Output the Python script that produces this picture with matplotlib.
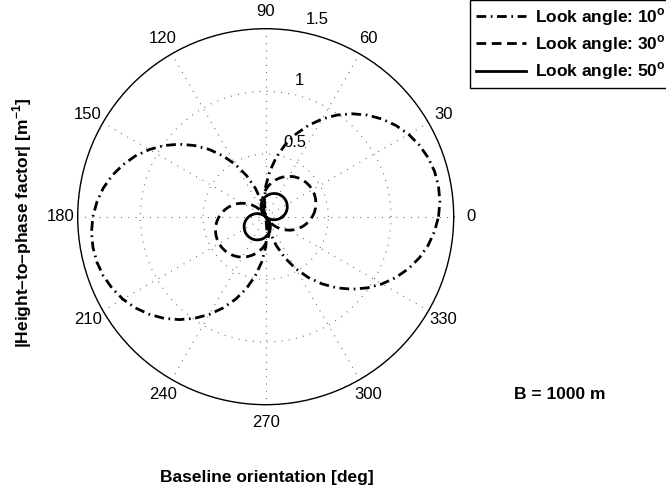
import numpy as np
import matplotlib
matplotlib.use("Agg")
import matplotlib.pyplot as plt

# ---- data ----
orientation_deg = [0, 5, 10, 15, 20, 25, 30, 35, 40, 45, 50, 55, 60, 65, 70,
                   75, 80, 85, 90, 95, 100, 105, 110, 115, 120, 125, 130,
                   135, 140, 145, 150, 155, 160, 165, 170, 175, 180, 185,
                   190, 195, 200, 205, 210, 215, 220, 225, 230, 235, 240,
                   245, 250, 255, 260, 265, 270, 275, 280, 285, 290, 295,
                   300, 305, 310, 315, 320, 325, 330, 335, 340, 345, 350,
                   355, 360]

look10 = [1.379, 1.395, 1.400, 1.395, 1.379, 1.352, 1.316, 1.269, 1.212,
          1.147, 1.072, 0.990, 0.900, 0.803, 0.700, 0.592, 0.479, 0.362,
          0.243, 0.122, 0.000, 0.122, 0.243, 0.362, 0.479, 0.592, 0.700,
          0.803, 0.900, 0.990, 1.072, 1.147, 1.212, 1.269, 1.316, 1.352,
          1.379, 1.395, 1.400, 1.395, 1.379, 1.352, 1.316, 1.269, 1.212,
          1.147, 1.072, 0.990, 0.900, 0.803, 0.700, 0.592, 0.479, 0.362,
          0.243, 0.122, 0.000, 0.122, 0.243, 0.362, 0.479, 0.592, 0.700,
          0.803, 0.900, 0.990, 1.072, 1.147, 1.212, 1.269, 1.316, 1.352,
          1.379]

look30 = [0.372, 0.390, 0.404, 0.415, 0.423, 0.428, 0.430, 0.428, 0.423,
          0.415, 0.404, 0.390, 0.372, 0.352, 0.329, 0.304, 0.276, 0.247,
          0.215, 0.182, 0.147, 0.111, 0.075, 0.037, 0.000, 0.037, 0.075,
          0.111, 0.147, 0.182, 0.215, 0.247, 0.276, 0.304, 0.329, 0.352,
          0.372, 0.390, 0.404, 0.415, 0.423, 0.428, 0.430, 0.428, 0.423,
          0.415, 0.404, 0.390, 0.372, 0.352, 0.329, 0.304, 0.276, 0.247,
          0.215, 0.182, 0.147, 0.111, 0.075, 0.037, 0.000, 0.037, 0.075,
          0.111, 0.147, 0.182, 0.215, 0.247, 0.276, 0.304, 0.329, 0.352,
          0.372]

look50 = [0.135, 0.148, 0.161, 0.172, 0.182, 0.190, 0.197, 0.203, 0.207,
          0.209, 0.210, 0.209, 0.207, 0.203, 0.197, 0.190, 0.182, 0.172,
          0.161, 0.148, 0.135, 0.120, 0.105, 0.089, 0.072, 0.054, 0.036,
          0.018, 0.000, 0.018, 0.036, 0.054, 0.072, 0.089, 0.105, 0.120,
          0.135, 0.148, 0.161, 0.172, 0.182, 0.190, 0.197, 0.203, 0.207,
          0.209, 0.210, 0.209, 0.207, 0.203, 0.197, 0.190, 0.182, 0.172,
          0.161, 0.148, 0.135, 0.120, 0.105, 0.089, 0.072, 0.054, 0.036,
          0.018, 0.000, 0.018, 0.036, 0.054, 0.072, 0.089, 0.105, 0.120,
          0.135]

series_labels = [r'Look angle: 10$^{\mathbf{o}}$',
                 r'Look angle: 30$^{\mathbf{o}}$',
                 r'Look angle: 50$^{\mathbf{o}}$']

theta_ticks = [0, 30, 60, 90, 120, 150, 180, 210, 240, 270, 300, 330]
theta_ticklabels = ['0', '30', '60', '90', '120', '150', '180', '210',
                    '240', '270', '300', '330']
r_ticks = [0.5, 1.0, 1.5]
r_ticklabels = ['0.5', '1', '1.5']

# ---- style ----
plt.rcParams['font.family'] = ['Liberation Sans', 'DejaVu Sans']
plt.rcParams['mathtext.fontset'] = 'custom'
plt.rcParams['mathtext.rm'] = 'Liberation Sans'
plt.rcParams['mathtext.bf'] = 'Liberation Sans:bold'
plt.rcParams['lines.scale_dashes'] = False

W, H = 666, 488
fig = plt.figure(figsize=(W / 100, H / 100), dpi=100)

cx, cy, R = 265.7, 216.7, 188.0
ax = fig.add_axes([(cx - R) / W, (H - cy - R) / H, 2 * R / W, 2 * R / H],
                  projection='polar')

th = np.deg2rad(orientation_deg)
lw = 2.0
l1, = ax.plot(th, look10, color='black', lw=lw,
              linestyle=(0, (7, 3.3, 1.2, 3.3)))
l2, = ax.plot(th, look30, color='black', lw=lw, linestyle=(0, (7, 4)))
l3, = ax.plot(th, look50, color='black', lw=lw, linestyle='-')

ax.set_ylim(0, 1.5)
ax.set_thetagrids(theta_ticks, labels=theta_ticklabels, fontsize=12)
ax.set_rticks(r_ticks)
ax.set_yticklabels([])
ax.tick_params(axis='x', length=0, pad=5.5)
ax.tick_params(axis='y', length=0)
ax.grid(True, color='0.3', linewidth=0.8, linestyle=(0, (0.6, 4.6)))
ax.spines['polar'].set_linewidth(1.0)
ax.spines['polar'].set_color('black')

for r, lab in zip(r_ticks, r_ticklabels):
    ax.annotate(lab, xy=(np.deg2rad(80), r), xytext=(5, 3.5),
                textcoords='offset points', ha='left', va='bottom',
                fontsize=12)

leg = fig.legend([l1, l2, l3], series_labels, loc='upper left',
                 bbox_to_anchor=(470 / W, 1.0), borderaxespad=0,
                 fancybox=False, shadow=False, framealpha=1,
                 edgecolor='black', handlelength=2.88, handletextpad=0.52,
                 borderpad=0.35, labelspacing=0.32,
                 prop={'weight': 'bold', 'size': 12.5})
leg.get_frame().set_linewidth(1.0)

fig.text(266.7 / W, (H - 481.7) / H, 'Baseline orientation [deg]',
         ha='center', va='baseline', fontsize=12.5, fontweight='bold')
fig.text(22.5 / W, (H - 223) / H,
         r'|Height–to–phase factor| [m$^{\mathbf{-1}}$]',
         rotation=90, ha='center', va='center', fontsize=12.5,
         fontweight='bold')
fig.text(559.7 / W, (H - 399) / H, 'B = 1000 m', ha='center',
         va='baseline', fontsize=12.5, fontweight='bold')

fig.savefig('out.png', dpi=100)
